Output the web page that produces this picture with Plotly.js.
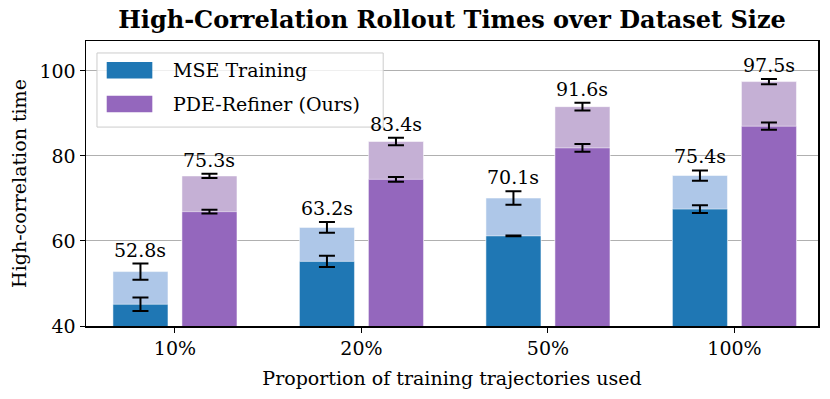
<!DOCTYPE html>
<html>
<head>
<meta charset="utf-8">
<script src="https://cdn.plot.ly/plotly-3.0.1.min.js"></script>
<style>
  html, body { margin: 0; padding: 0; background: #fff; }
  #plt { width: 830px; height: 399px; }
</style>
</head>
<body>
<div id="plt"></div>
<script>
// dataset sizes on the x axis
var categories = ['10%', '20%', '50%', '100%'];

// MSE training: dark = lower bar, total = full bar (label)
var mseLow = [45.1, 55.2, 61.2, 67.5];
var mseLowErr = [1.6, 1.3, 0.1, 0.9];
var mseTotal = [52.8, 63.2, 70.1, 75.4];
var mseTotalErr = [1.9, 1.25, 1.6, 1.2];

// PDE-Refiner
var pdeLow = [66.9, 74.5, 81.9, 87.0];
var pdeLowErr = [0.45, 0.55, 0.9, 0.85];
var pdeTotal = [75.3, 83.4, 91.6, 97.5];
var pdeTotalErr = [0.5, 0.9, 0.9, 0.6];

var xIdx = categories.map(function (c, i) { return i; });

var barW = 0.295;
var shift = 0.185;   // bar centre distance from tick
var font = 'DejaVu Serif, serif';
var fs = 19;

function errBar(arr) {
    return {type: 'data', array: arr, visible: true, color: '#000', thickness: 2, width: 8};
}

function barTrace(y, err, color, off, name) {
    return {
        x: xIdx,
        y: y,
        type: 'bar',
        width: barW,
        offset: off - barW / 2,
        marker: {color: color, line: {color: 'rgba(255,255,255,0.5)', width: 1}},
        error_y: errBar(err),
        name: name,
        showlegend: false,
        hoverinfo: 'skip'
    };
}

var data = [
    barTrace(mseTotal, mseTotalErr, '#aec7e8', -shift, 'MSE total'),
    barTrace(pdeTotal, pdeTotalErr, '#c5b0d5', shift, 'PDE total'),
    barTrace(mseLow, mseLowErr, '#1f77b4', -shift, 'MSE Training'),
    barTrace(pdeLow, pdeLowErr, '#9467bd', shift, 'PDE-Refiner (Ours)')
];

// value labels above the error bars
var annotations = [];
xIdx.forEach(function (i) {
    annotations.push({
        x: i - shift, y: mseTotal[i] + mseTotalErr[i], xref: 'x', yref: 'y',
        text: mseTotal[i].toFixed(1) + 's', showarrow: false,
        yanchor: 'bottom', yshift: 1, font: {family: font, size: fs, color: '#000'}
    });
    annotations.push({
        x: i + shift, y: pdeTotal[i] + pdeTotalErr[i], xref: 'x', yref: 'y',
        text: pdeTotal[i].toFixed(1) + 's', showarrow: false,
        yanchor: 'bottom', yshift: 1, font: {family: font, size: fs, color: '#000'}
    });
});

// legend drawn by hand (matplotlib style big swatches)
var legendNames = ['MSE Training', 'PDE-Refiner (Ours)'];
var legendColors = ['#1f77b4', '#9467bd'];
var shapes = [{
    type: 'rect', xref: 'paper', yref: 'paper', layer: 'above',
    x0: 0.015, x1: 0.406, y0: 0.698, y1: 0.958,
    line: {color: '#cccccc', width: 1}, fillcolor: 'rgba(255,255,255,0.8)'
}];
var legY = [0.8975, 0.779];
legendNames.forEach(function (n, k) {
    shapes.push({
        type: 'rect', xref: 'paper', yref: 'paper', layer: 'above',
        x0: 0.0283, x1: 0.0906, y0: legY[k] - 0.029, y1: legY[k] + 0.029,
        line: {width: 0}, fillcolor: legendColors[k]
    });
    annotations.push({
        x: 0.1157, y: legY[k], xref: 'paper', yref: 'paper', xanchor: 'left', yanchor: 'middle',
        text: n, showarrow: false, font: {family: font, size: fs, color: '#000'}
    });
});

var layout = {
    width: 830,
    height: 399,
    margin: {l: 86, r: 12, t: 41, b: 73},
    paper_bgcolor: '#fff',
    plot_bgcolor: '#fff',
    barmode: 'overlay',
    showlegend: false,
    title: {
        text: '<b>High-Correlation Rollout Times over Dataset Size</b>',
        font: {family: font, size: 24, color: '#000'},
        xref: 'paper', x: 0.5, xanchor: 'center', y: 0.951, yanchor: 'middle'
    },
    xaxis: {
        range: [-0.477, 3.448],
        tickvals: xIdx,
        ticktext: categories,
        ticks: 'outside', ticklen: 5, tickwidth: 1, tickcolor: '#000',
        showgrid: false, zeroline: false,
        showline: true, mirror: true, linecolor: '#000', linewidth: 1.5,
        tickfont: {family: font, size: fs, color: '#000'},
        title: {text: 'Proportion of training trajectories used', font: {family: font, size: fs, color: '#000'}, standoff: 13}
    },
    yaxis: {
        range: [40, 107.05],
        tickvals: [40, 60, 80, 100],
        ticks: 'outside', ticklen: 5, tickwidth: 1, tickcolor: '#000',
        showgrid: true, gridcolor: '#b0b0b0', gridwidth: 1,
        zeroline: false,
        showline: true, mirror: true, linecolor: '#000', linewidth: 1.5,
        tickfont: {family: font, size: fs, color: '#000'},
        title: {text: 'High-correlation time', font: {family: font, size: fs, color: '#000'}, standoff: 8}
    },
    annotations: annotations,
    shapes: shapes
};

Plotly.newPlot('plt', data, layout, {displayModeBar: false, staticPlot: true});
</script>
</body>
</html>
